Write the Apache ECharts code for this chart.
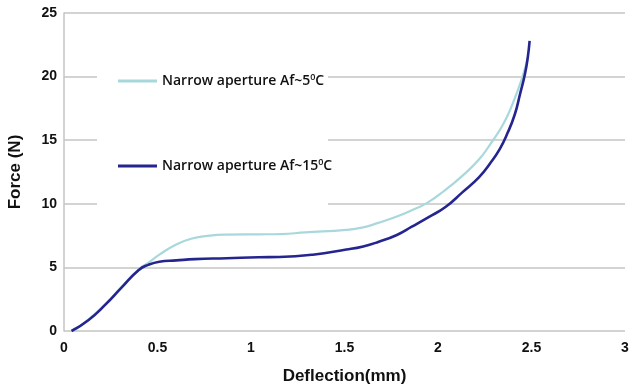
<!DOCTYPE html>
<html>
<head>
<meta charset="utf-8">
<script src="https://cdn.jsdelivr.net/npm/echarts@6/dist/echarts.min.js"></script>
<style>html,body{margin:0;padding:0;background:#fff;}#c{width:630px;height:390px;}</style>
</head>
<body>
<div id="c"></div>
<script>
var seriesNames = ['Narrow aperture Af~5⁰C', 'Narrow aperture Af~15⁰C'];
var xTicks = [0, 0.5, 1, 1.5, 2, 2.5, 3];
var yTicks = [0, 5, 10, 15, 20, 25];

var deflection5 = [0.05,0.13,0.22,0.31,0.40,0.45,0.51,0.60,0.68,0.78,0.87,1.04,1.16,1.29,1.51,1.60,1.68,1.78,1.86,1.94,2.04,2.13,2.22,2.28,2.35,2.40,2.45,2.48];
var force5      = [0,0.9,2.1,3.5,4.85,5.35,6.0,6.8,7.25,7.5,7.58,7.6,7.62,7.75,7.95,8.15,8.5,9.0,9.5,10.05,11.1,12.2,13.5,14.7,16.3,17.9,19.9,21.5];

var deflection15 = [0.04,0.13,0.22,0.31,0.40,0.45,0.51,0.60,0.70,0.87,1.04,1.15,1.33,1.51,1.60,1.68,1.78,1.86,1.95,2.04,2.13,2.22,2.28,2.33,2.37,2.41,2.44,2.465,2.48,2.49];
var force15      = [0,0.85,2.05,3.45,4.8,5.2,5.45,5.55,5.65,5.72,5.8,5.82,6.0,6.4,6.65,7.0,7.55,8.2,8.95,9.75,10.9,12.1,13.2,14.3,15.5,17.0,18.7,20.2,21.5,22.8];

function pairs(xs, ys){ return xs.map(function(x,i){ return [x, ys[i]]; }); }

var chart = echarts.init(document.getElementById('c'), null, {renderer:'canvas'});
var legendText = {
  fontFamily: 'Open Sans', fontSize: 14, fontWeight: 600, color: '#111',
  rich: {
    a: {fontFamily: 'Open Sans', fontSize: 14, fontWeight: 600, color: '#111'},
    s: {fontFamily: 'Open Sans', fontSize: 9, fontWeight: 600, color: '#111', padding: [0,0,7,0]}
  }
};
function legendFmt(name){
  var p = name.split('⁰');
  return '{a|' + p[0] + '}{s|0}{a|' + p[1] + '}';
}
chart.setOption({
  animation: false,
  backgroundColor: '#fff',
  grid: {left: 64, right: 5, top: 13, bottom: 59, containLabel: false, outerBoundsMode: 'none'},
  xAxis: {
    type: 'value', min: 0, max: 3, interval: 0.5,
    name: 'Deflection(mm)', nameLocation: 'middle', nameGap: 37,
    nameTextStyle: {fontFamily: 'Liberation Sans', fontWeight: 'bold', fontSize: 17, color: '#111'},
    axisLine: {show: false}, axisTick: {show: false},
    splitLine: {show: false},
    axisLabel: {fontFamily: 'Liberation Sans', fontWeight: 'bold', fontSize: 14, color: '#111', margin: 10,
      formatter: function(v){ return xTicks.indexOf(v) >= 0 ? String(v) : ''; }}
  },
  yAxis: {
    type: 'value', min: 0, max: 25, interval: 5,
    name: 'Force (N)', nameLocation: 'middle', nameGap: 40,
    nameTextStyle: {fontFamily: 'Liberation Sans', fontWeight: 'bold', fontSize: 17, color: '#111'},
    axisLine: {show: true, lineStyle: {color: '#c4c4c4', width: 1.5}}, axisTick: {show: false},
    splitLine: {show: true, lineStyle: {color: '#c4c4c4', width: 1.5}},
    axisLabel: {fontFamily: 'Liberation Sans', fontWeight: 'bold', fontSize: 14, color: '#111', margin: 7,
      formatter: function(v){ return yTicks.indexOf(v) >= 0 ? String(v) : ''; }}
  },
  graphic: [{
    type: 'rect', z: 5, silent: true,
    shape: {x: 97, y: 64, width: 231, height: 150},
    style: {fill: '#fff'}
  }],
  legend: [
    {data: [seriesNames[0]], left: 113, top: 68, orient: 'horizontal', icon: 'rect', itemWidth: 39, itemHeight: 3,
     itemGap: 10, z: 10, textStyle: legendText, formatter: legendFmt, selectedMode: false},
    {data: [seriesNames[1]], left: 113, top: 153, orient: 'horizontal', icon: 'rect', itemWidth: 39, itemHeight: 3,
     itemGap: 8, z: 10, textStyle: legendText, formatter: legendFmt, selectedMode: false}
  ],
  series: [
    {name: seriesNames[0], type: 'line', smooth: 0.5, symbol: 'none', data: pairs(deflection5, force5),
     lineStyle: {color: '#a8d8dc', width: 2.2}, itemStyle: {color: '#a8d8dc'}},
    {name: seriesNames[1], type: 'line', smooth: 0.5, symbol: 'none', data: pairs(deflection15, force15),
     lineStyle: {color: '#252590', width: 2.6}, itemStyle: {color: '#252590'}}
  ]
});
</script>
</body>
</html>
